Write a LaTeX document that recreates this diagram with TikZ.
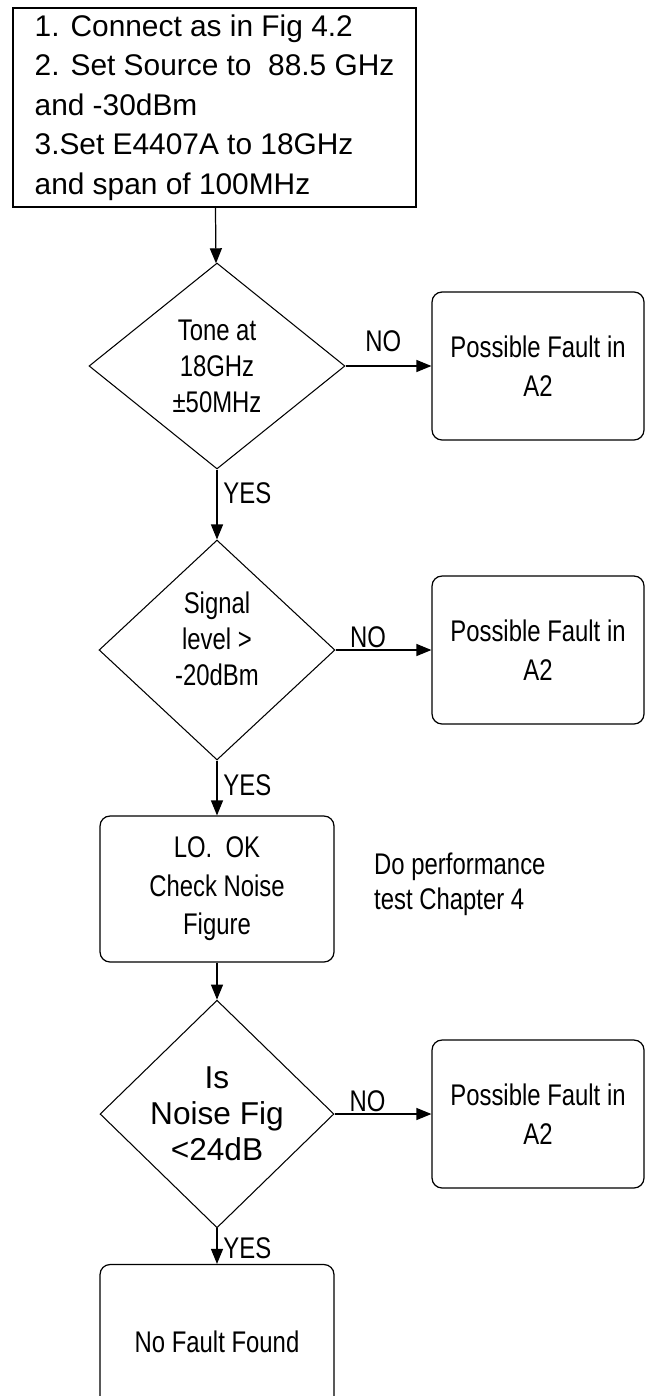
\documentclass[tikz,border=0pt]{standalone}
\usepackage{fontspec}
\setmainfont{Liberation Sans}
\newfontfamily\narrowfont[FakeStretch=0.8]{Liberation Sans}
\usetikzlibrary{shapes.geometric,arrows.meta}
\begin{document}
\begin{tikzpicture}[x=0.02cm,y=-0.02cm]
        \tikzset{
            stepbox/.style={rectangle, draw, line width=0.7pt, minimum width=8.06cm, minimum height=3.98cm, align=left, font=\fontsize{17}{22.5}\selectfont},
            dec/.style={diamond, draw, line width=0.6pt, inner sep=0pt, align=center, font=\narrowfont\fontsize{17}{20.5}\selectfont},
            res/.style={rectangle, rounded corners=0.2cm, draw, line width=0.7pt, minimum width=4.24cm, minimum height=2.96cm, align=center, font=\narrowfont\fontsize{17}{22}\selectfont},
            lbl/.style={font=\narrowfont\fontsize{17}{20}\selectfont},
            c1/.style={-{Triangle[length=0.3cm, width=0.24cm]}, line width=0.7pt}
            }

            \path[fill=white, use as bounding box] (0,0) rectangle (646,1396);

            \node[stepbox] (n1) at (214.5,107.5) {1. Connect as in Fig 4.2\\2. Set Source to \ 88.5 GHz\\and -30dBm\\3.Set E4407A to 18GHz\\and span of 100MHz};
            \node[dec, minimum width=5.12cm, minimum height=4.12cm] (n2) at (217,366) {Tone at\\18GHz\\±50MHz};
            \node[res] (n3) at (538,366) {Possible Fault in\\A2};
            \node[dec, minimum width=4.72cm, minimum height=4.4cm] (n4) at (217,650) {Signal\\level >\\-20dBm\\[-0.28cm]\mbox{}};
            \node[res] (n5) at (538,650) {Possible Fault in\\A2};
            \node[res, minimum width=4.68cm, minimum height=2.92cm] (n6) at (217,889) {LO.\ \ OK\\Check Noise\\Figure};
            \node[lbl, anchor=west, align=left] (n7) at (368,884) {Do performance\\test Chapter 4};
            \node[dec, minimum width=4.68cm, minimum height=4.08cm, font=\fontsize{18}{20.5}\selectfont] (n8) at (217,1114) {Is\\Noise Fig\\<24dB};
            \node[res] (n9) at (538,1114) {Possible Fault in\\A2};
            \node[res, minimum width=4.68cm, minimum height=3.1cm] (n10) at (217,1342) {No Fault Found};

            \draw[c1] (n1) to (n2);
            \draw[c1] (n2) to node[lbl, above, pos=0.44, yshift=0.15cm] (l1) {NO} (n3);
            \draw[c1] (n2) to node[lbl, right, pos=0.34] (l2) {YES} (n4);
            \draw[c1] (n4) to node[lbl, above, pos=0.34, inner sep=1pt] (l3) {NO} (n5);
            \draw[c1] (n4) to node[lbl, right, pos=0.45] (l4) {YES} (n6);
            \draw[c1] (n6) to (n8);
            \draw[c1] (n8) to node[lbl, above, pos=0.34, inner sep=1pt] (l5) {NO} (n9);
            \draw[c1] (n8) to node[lbl, right, pos=0.55] (l6) {YES} (n10);
        \end{tikzpicture}
\end{document}
